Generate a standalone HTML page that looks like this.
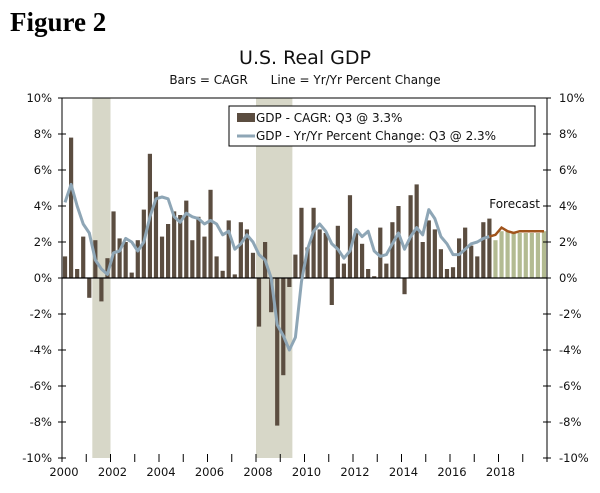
<!DOCTYPE html>
<html><head><meta charset="utf-8"><style>
body{margin:0;background:#fff;width:600px;height:488px;overflow:hidden}
svg text{font-family:"DejaVu Sans","Liberation Sans",sans-serif}
</style></head><body>
<svg id="c" width="600" height="488">
<text x="10" y="31" style="font-family:'Liberation Serif',serif" font-weight="bold" font-size="27">Figure 2</text>
<text x="305" y="64" text-anchor="middle" font-size="19" fill="#111">U.S. Real GDP</text>
<text x="305" y="84" text-anchor="middle" font-size="12" fill="#111" style="white-space:pre" xml:space="preserve">Bars = CAGR      Line = Yr/Yr Percent Change</text>
<g id="g"></g>
</svg>
<script>
const years=["2000","2002","2004","2006","2008","2010","2012","2014","2016","2018"];
const yTicks=[10,8,6,4,2,0,-2,-4,-6,-8,-10];
const cagr=[1.2,7.8,0.5,2.3,-1.1,2.1,-1.3,1.1,3.7,2.2,2.0,0.3,2.1,3.8,6.9,4.8,2.3,3.0,3.7,3.5,4.3,2.1,3.4,2.3,4.9,1.2,0.4,3.2,0.2,3.1,2.7,1.4,-2.7,2.0,-1.9,-8.2,-5.4,-0.5,1.3,3.9,1.7,3.9,2.7,2.5,-1.5,2.9,0.8,4.6,2.7,1.9,0.5,0.1,2.8,0.8,3.1,4.0,-0.9,4.6,5.2,2.0,3.2,2.7,1.6,0.5,0.6,2.2,2.8,1.8,1.2,3.1,3.3];
const cagrForecast=[2.1,2.6,2.6,2.5,2.5,2.5,2.5,2.5,2.6];
const yoy=[4.2,5.2,4.0,3.0,2.5,1.0,0.5,0.2,1.4,1.5,2.2,2.0,1.5,2.0,3.4,4.4,4.5,4.4,3.4,3.1,3.6,3.4,3.3,3.0,3.2,3.0,2.4,2.6,1.6,1.9,2.4,2.0,1.3,1.0,0.0,-2.6,-3.2,-4.0,-3.3,-0.2,1.6,2.6,3.0,2.6,1.9,1.6,1.1,1.5,2.7,2.3,2.6,1.5,1.2,1.3,1.9,2.5,1.6,2.3,2.8,2.4,3.8,3.3,2.3,1.9,1.3,1.3,1.6,1.9,2.0,2.2,2.3];
const yoyForecast=[2.3,2.4,2.8,2.6,2.5,2.6,2.6,2.6,2.6,2.6];
const recessions=[[5,7],[32,37]];
const L=62,R=547,T=98,B=458,N=80;
const step=(R-L)/N;
const x=i=>L+step*(i+0.5);
const y=v=>T+(10-v)*(B-T)/20;
const g=document.getElementById('g');
const NS='http://www.w3.org/2000/svg';
function el(t,a){const e=document.createElementNS(NS,t);for(const k in a)e.setAttribute(k,a[k]);g.appendChild(e);return e;}
recessions.forEach(r=>{const e=el('rect',{x:x(r[0])-step/2,y:T,width:step*(r[1]-r[0]+1),height:B-T,fill:'#d7d7c8'});

});
const bw=4.2;
cagr.forEach((v,i)=>{const e=el('rect',{x:x(i)-bw/2,y:Math.min(y(v),y(0)),width:bw,height:Math.abs(y(v)-y(0)),fill:'#5b4d40'});

});
cagrForecast.forEach((v,i)=>{const j=cagr.length+i;const e=el('rect',{x:x(j)-bw/2,y:Math.min(y(v),y(0)),width:bw,height:Math.abs(y(v)-y(0)),fill:'#b3bb92'});

});
let z=el('line',{x1:L,x2:R,y1:y(0),y2:y(0),stroke:'#000','stroke-width':1.2});


let p=el('polyline',{points:yoy.map((v,i)=>x(i)+','+y(v)).join(' '),fill:'none',stroke:'#8ea6b6','stroke-width':3,'stroke-linejoin':'round'});


let pf=el('polyline',{points:yoyForecast.map((v,i)=>x(yoy.length-1+i)+','+y(v)).join(' '),fill:'none',stroke:'#a0541c','stroke-width':2.5});


[[L,T,R,T],[L,T,L,B],[R,T,R,B]].forEach(a=>{const e=el('line',{x1:a[0],y1:a[1],x2:a[2],y2:a[3],stroke:'#000','stroke-width':1});

});
yTicks.forEach(v=>{
 el('line',{x1:L-4,x2:L+4,y1:y(v),y2:y(v),stroke:'#000'});
 el('line',{x1:R-4,x2:R+4,y1:y(v),y2:y(v),stroke:'#000'});
 const a=el('text',{x:L-10,y:y(v)+4,'text-anchor':'end','font-size':11.5,fill:'#111'});a.textContent=v+'%';
 
 
 const b=el('text',{x:R+12,y:y(v)+4,'font-size':11.5,fill:'#111'});b.textContent=v+'%';
 
 
});
for(let q=0;q<=N;q+=4){el('line',{x1:L+q*step,x2:L+q*step,y1:B-4,y2:B+4,stroke:'#000'});}
years.forEach((t,k)=>{const e=el('text',{x:L+k*8*step+2,y:B+18,'text-anchor':'middle','font-size':11.5,fill:'#111'});e.textContent=t;

});
let f=el('text',{x:540,y:208,'text-anchor':'end','font-size':12,fill:'#111'});f.textContent='Forecast';


let lg=el('rect',{x:229,y:106,width:306,height:40,fill:'#fff',stroke:'#000'});


el('rect',{x:237,y:113,width:18,height:9,fill:'#5b4d40'});
el('line',{x1:237,x2:255,y1:136,y2:136,stroke:'#8ea6b6','stroke-width':3});
let l1=el('text',{x:256,y:122,'font-size':12,fill:'#111'});l1.textContent='GDP - CAGR: Q3 @ 3.3%';


let l2=el('text',{x:256,y:140,'font-size':12,fill:'#111'});l2.textContent='GDP - Yr/Yr Percent Change: Q3 @ 2.3%';


</script>
</body></html>
